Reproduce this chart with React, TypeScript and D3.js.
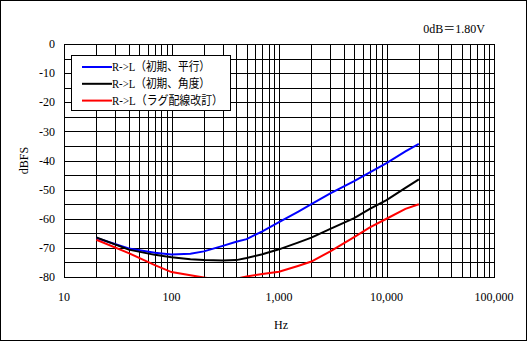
import React from "react";
import * as d3 from "d3";

const freqs = [20, 40, 70, 100, 150, 200, 300, 400, 500, 700, 1000, 1500, 2000, 3000, 5000, 7000, 10000, 15000, 20000];
const blueVals = [-66.6, -70.2, -71.7, -72.3, -72.0, -71.2, -69.3, -67.9, -67.0, -64.3, -61.2, -57.6, -55.0, -51.3, -47.1, -44.1, -40.9, -36.9, -34.3];
const blackVals = [-66.4, -70.6, -72.4, -73.2, -73.9, -74.2, -74.3, -74.2, -73.5, -72.2, -70.5, -68.2, -66.5, -63.5, -59.8, -56.6, -53.6, -49.4, -46.5];
const redVals = [-67.2, -71.8, -75.9, -78.3, -79.4, -80.2, -81.0, -80.6, -79.8, -79.0, -78.2, -76.2, -74.7, -71.2, -66.3, -63.0, -60.0, -56.6, -55.0];

const seriesNames = ["R->L（初期、平行）", "R->L（初期、角度）", "R->L（ラグ配線改訂）"];
const seriesColors = ["#0000ff", "#000000", "#ff0000"];
const seriesData = [blueVals, blackVals, redVals];

const yTicks = [0, -10, -20, -30, -40, -50, -60, -70, -80];
const xTicks = [10, 100, 1000, 10000, 100000];
const xTickLabels = ["10", "100", "1,000", "10,000", "100,000"];

const W = 527, H = 341;
const L = 64, R = 494, T = 44, B = 277;
const FONT = "'Liberation Serif', 'Noto Sans CJK JP', serif";
const legendTextLen = [98, 98, 111];

export default function App() {
  const x = d3.scaleLog().domain([10, 100000]).range([L, R]);
  const y = d3.scaleLinear().domain([-80, 0]).range([B, T]);

  const minorX: number[] = [];
  for (let dec = 10; dec < 100000; dec *= 10) {
    for (let m = 1; m <= 10; m++) minorX.push(dec * m);
  }
  const gridY = d3.range(-80, 1, 5);

  const line = d3
    .line<[number, number]>()
    .x((d) => x(d[0]))
    .y((d) => y(d[1]));

  return (
    <svg width={W} height={H} style={{ position: "absolute", left: 0, top: 0, background: "#fff" }} fontFamily={FONT}>
      <rect x={0.5} y={0.5} width={W - 1} height={H - 1} fill="#fff" stroke="#000" strokeWidth={1} />
      <defs>
        <clipPath id="plotclip">
          <rect x={L} y={T} width={R - L} height={B - T} />
        </clipPath>
      </defs>
      {gridY.map((v) => (
        <line key={"gy" + v} x1={L} x2={R} y1={Math.round(y(v)) + 0.5} y2={Math.round(y(v)) + 0.5} stroke="#000" strokeWidth={1} />
      ))}
      {minorX.map((f) => (
        <line key={"gx" + f} x1={Math.round(x(f)) + 0.5} x2={Math.round(x(f)) + 0.5} y1={T} y2={B} stroke="#000" strokeWidth={1} />
      ))}
      <rect x={L + 0.5} y={T + 0.5} width={R - L} height={B - T} fill="none" stroke="#000" strokeWidth={1} />
      <g clipPath="url(#plotclip)">
        {seriesData.map((vals, i) => (
          <path
            key={"s" + i}
            d={line(freqs.map((f, j) => [f, vals[j]] as [number, number])) || ""}
            fill="none"
            stroke={seriesColors[i]}
            strokeWidth={2}
          />
        ))}
      </g>
      {yTicks.map((v) => (
        <text key={"yt" + v} x={55} y={y(v)} dy="0.35em" textAnchor="end" fontSize={12}>
          {v}
        </text>
      ))}
      {xTicks.map((f, i) => (
        <text key={"xt" + f} x={x(f)} y={301} textAnchor="middle" fontSize={12}>
          {xTickLabels[i]}
        </text>
      ))}
      <text x={281} y={329} textAnchor="middle" fontSize={12}>Hz</text>
      <text transform={`translate(28,${(T + B) / 2}) rotate(-90)`} textAnchor="middle" fontSize={12}>dBFS</text>
      <text x={485} y={33} textAnchor="end" fontSize={12}>0dB＝1.80V</text>
      <rect x={71.5} y={55.5} width={159} height={55} fill="#fff" stroke="#000" strokeWidth={1} />
      {seriesNames.map((name, i) => (
        <g key={"lg" + i}>
          <line x1={82} x2={112} y1={67 + i * 16.8} y2={67 + i * 16.8} stroke={seriesColors[i]} strokeWidth={2} />
          <text
            x={112}
            y={67 + i * 16.8}
            dy="0.35em"
            fontSize={12}
            textLength={legendTextLen[i]}
            lengthAdjust="spacingAndGlyphs"
          >
            {name}
          </text>
        </g>
      ))}
    </svg>
  );
}
